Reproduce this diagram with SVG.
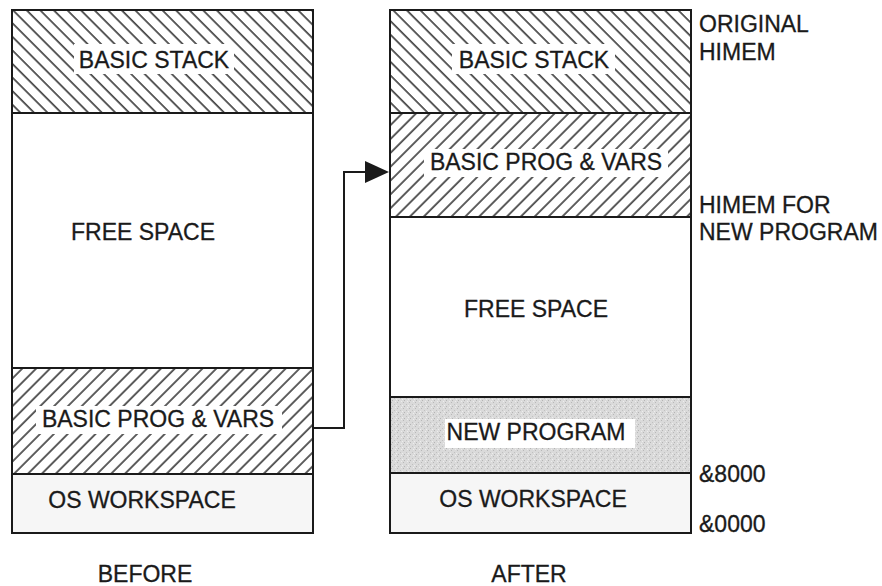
<svg xmlns="http://www.w3.org/2000/svg" width="882" height="586" viewBox="0 0 882 586">
<style>
.t{font-family:"Liberation Sans",Arial,sans-serif;font-size:23px;fill:#1a1a1a;stroke:#1a1a1a;stroke-width:0.3}
.m{text-anchor:middle}
.box{stroke:#1a1a1a;stroke-width:2;}
.wb{fill:#fff}
.conn{fill:none;stroke:#1a1a1a;stroke-width:2}
</style>
<defs>
<pattern id="hb" patternUnits="userSpaceOnUse" width="9.6" height="20" patternTransform="rotate(-45)">
<line x1="2" y1="0" x2="2" y2="20" stroke="#1a1a1a" stroke-width="1.4"/>
</pattern>
<pattern id="hf" patternUnits="userSpaceOnUse" width="9.8" height="20" patternTransform="rotate(45)">
<line x1="2" y1="0" x2="2" y2="20" stroke="#1a1a1a" stroke-width="1.4"/>
</pattern>
<pattern id="st" patternUnits="userSpaceOnUse" width="6" height="6">
<rect width="6" height="6" fill="#dadada"/>
<rect x="1" y="0" width="1" height="1" fill="#b8b8b8"/>
<rect x="4" y="2" width="1" height="1" fill="#c0c0c0"/>
<rect x="2" y="4" width="1" height="1" fill="#b4b4b4"/>
<rect x="5" y="5" width="1" height="1" fill="#ededed"/>
<rect x="0" y="3" width="1" height="1" fill="#eeeeee"/>
</pattern>
</defs>
<rect width="882" height="586" fill="#fff"/>

<g id="before-basic-stack">
<rect class="box" x="12" y="10" width="301" height="103" fill="url(#hb)"/>
<rect class="wb" x="74" y="44" width="160" height="30"/>
<text class="t m" x="154" y="68">BASIC STACK</text>
</g>
<g id="before-free-space">
<rect class="box" x="12" y="113" width="301" height="255" fill="#fff"/>
<text class="t m" x="143" y="240">FREE SPACE</text>
</g>
<g id="before-basic-prog">
<rect class="box" x="12" y="368" width="301" height="106" fill="url(#hf)"/>
<rect class="wb" x="36" y="406" width="246" height="28"/>
<text class="t m" x="158" y="427">BASIC PROG &amp; VARS</text>
</g>
<g id="before-os">
<rect class="box" x="12" y="474" width="301" height="59" fill="#f6f6f6"/>
<text class="t m" x="142" y="508">OS WORKSPACE</text>
</g>

<g id="after-basic-stack">
<rect class="box" x="390" y="10" width="301" height="103" fill="url(#hb)"/>
<rect class="wb" x="452" y="44" width="163" height="30"/>
<text class="t m" x="534" y="68">BASIC STACK</text>
</g>
<g id="after-basic-prog">
<rect class="box" x="390" y="113" width="301" height="104" fill="url(#hf)"/>
<rect class="wb" x="424" y="149" width="244" height="28"/>
<text class="t m" x="546" y="170">BASIC PROG &amp; VARS</text>
</g>
<g id="after-free-space">
<rect class="box" x="390" y="217" width="301" height="180" fill="#fff"/>
<text class="t m" x="536" y="317">FREE SPACE</text>
</g>
<g id="after-new-program">
<rect class="box" x="390" y="397" width="301" height="76" fill="url(#st)"/>
<rect class="wb" x="445" y="419" width="190" height="29"/>
<text class="t m" x="536" y="440">NEW PROGRAM</text>
</g>
<g id="after-os">
<rect class="box" x="390" y="473" width="301" height="60" fill="#f6f6f6"/>
<text class="t m" x="533" y="507">OS WORKSPACE</text>
</g>

<g id="labels">
<text class="t" x="699" y="32">ORIGINAL</text>
<text class="t" x="699" y="60">HIMEM</text>
<text class="t" x="699" y="213">HIMEM FOR</text>
<text class="t" x="699" y="240">NEW PROGRAM</text>
<text class="t" x="699" y="482">&amp;8000</text>
<text class="t" x="699" y="532">&amp;0000</text>
<text class="t m" x="145" y="582">BEFORE</text>
<text class="t m" x="529" y="582">AFTER</text>
</g>

<g id="connectors">
<polyline class="conn" points="313,428 344,428 344,172 368,172"/>
<polygon points="365,161 389,172 365,183" fill="#1a1a1a"/>
</g>
</svg>
